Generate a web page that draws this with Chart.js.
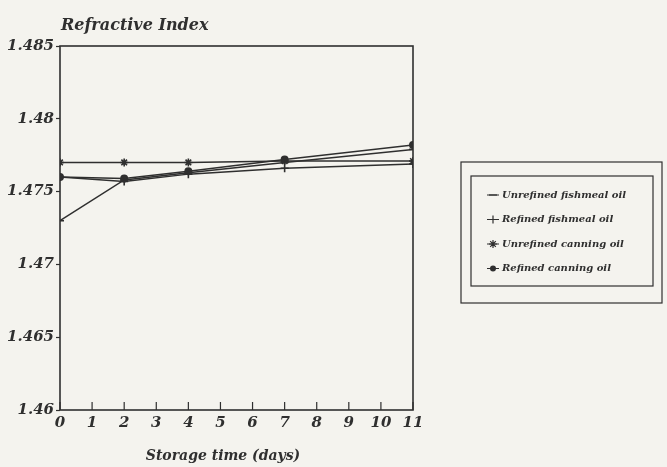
<!DOCTYPE html>
<html>
<head>
<meta charset="utf-8">
<script src="https://cdn.jsdelivr.net/npm/chart.js@4/dist/chart.umd.min.js"></script>
<style>
  html, body { margin: 0; padding: 0; background: #f4f3ee; }
  #wrap { width: 667px; height: 467px; position: relative; }
</style>
</head>
<body>
<div id="wrap"><canvas id="ri-chart" width="667" height="467"></canvas></div>
<script>
// storage days and refractive index readings
var days = [0, 2, 4, 7, 11];
var unrefinedFishmeal = [1.4730, 1.4758, 1.4763, 1.4770, 1.4779];
var refinedFishmeal = [1.4760, 1.4757, 1.4762, 1.4766, 1.4769];
var unrefinedCanning = [1.4770, 1.4770, 1.4770, 1.4771, 1.4771];
var refinedCanning = [1.4760, 1.4759, 1.4764, 1.4772, 1.4782];

var seriesLabels = ['Unrefined fishmeal oil', 'Refined fishmeal oil', 'Unrefined canning oil', 'Refined canning oil'];
var seriesValues = [unrefinedFishmeal, refinedFishmeal, unrefinedCanning, refinedCanning];
var markers = ['line', 'cross', 'star', 'circle'];

var xTicks = [0, 1, 2, 3, 4, 5, 6, 7, 8, 9, 10, 11];
var yTicks = [1.46, 1.465, 1.47, 1.475, 1.48, 1.485];

var ink = '#2f2f2f';
var fontFam = '"DejaVu Serif", serif';

function toPoints(vals) {
    return days.map(function (d, i) { return { x: d, y: vals[i] }; });
}

var datasets = seriesValues.map(function (vals, i) {
    return {
        label: seriesLabels[i],
        data: toPoints(vals),
        borderColor: ink,
        backgroundColor: ink,
        borderWidth: 1.5,
        pointStyle: markers[i],
        pointRadius: markers[i] == 'circle' ? 3.2 : 4,
        pointBorderWidth: 1.6,
        tension: 0
    };
});

function drawMarker(ctx, style, x, y, r) {
    ctx.beginPath();
    if (style == 'circle') {
        ctx.arc(x, y, r * 0.75, 0, Math.PI * 2);
        ctx.fill();
        return;
    }
    if (style == 'line' || style == 'cross' || style == 'star') {
        ctx.moveTo(x - r, y); ctx.lineTo(x + r, y);
    }
    if (style == 'cross' || style == 'star') {
        ctx.moveTo(x, y - r); ctx.lineTo(x, y + r);
    }
    if (style == 'star') {
        var d = r * 0.7;
        ctx.moveTo(x - d, y - d); ctx.lineTo(x + d, y + d);
        ctx.moveTo(x - d, y + d); ctx.lineTo(x + d, y - d);
    }
    ctx.stroke();
}

// frame, inward x ticks, axis titles and boxed legend
var framePlugin = {
    id: 'frame',
    afterDraw: function (chart) {
        var ctx = chart.ctx;
        var a = chart.chartArea;
        var xs = chart.scales.x;
        ctx.save();
        ctx.strokeStyle = ink;
        ctx.fillStyle = ink;
        ctx.lineWidth = 1.6;
        ctx.strokeRect(a.left, a.top, a.right - a.left, a.bottom - a.top);

        ctx.lineWidth = 1.2;
        ctx.beginPath();
        xTicks.forEach(function (t) {
            var px = xs.getPixelForValue(t);
            ctx.moveTo(px, a.bottom);
            ctx.lineTo(px, a.bottom - 8);
        });
        ctx.stroke();

        ctx.font = 'italic bold 16px ' + fontFam;
        ctx.textAlign = 'left';
        ctx.textBaseline = 'alphabetic';
        ctx.fillText('Refractive Index', a.left + 1, 30);

        ctx.font = 'italic bold 14px ' + fontFam;
        ctx.textAlign = 'center';
        ctx.fillText('Storage time (days)', 223, 460);

        // legend boxes
        ctx.textAlign = 'left';
        ctx.lineWidth = 1.2;
        ctx.strokeRect(461, 162, 201, 141);
        ctx.strokeRect(471, 176, 182, 110);
        ctx.font = 'italic bold 10px ' + fontFam;
        ctx.textBaseline = 'middle';
        seriesLabels.forEach(function (lab, i) {
            var y = 195 + i * 24.5;
            ctx.lineWidth = 1;
            ctx.beginPath();
            ctx.moveTo(487, y); ctx.lineTo(499, y);
            ctx.stroke();
            ctx.lineWidth = 1.2;
            drawMarker(ctx, markers[i], 493, y, 4);
            ctx.fillText(lab, 502, y);
        });
        ctx.restore();
    }
};

var ctx = document.getElementById('ri-chart').getContext('2d');
var riChart = new Chart(ctx, {
    type: 'line',
    data: { datasets: datasets },
    options: {
        responsive: false,
        animation: false,
        layout: { padding: { top: 46, right: 254, left: 0, bottom: 0 } },
        plugins: {
            legend: { display: false },
            tooltip: { enabled: false }
        },
        scales: {
            x: {
                type: 'linear',
                min: 0,
                max: 11,
                afterFit: function (s) { s.height = 57; },
                afterBuildTicks: function (s) {
                    s.ticks = xTicks.map(function (v) { return { value: v }; });
                },
                grid: { drawOnChartArea: false, drawTicks: false },
                border: { display: false },
                ticks: {
                    color: ink,
                    padding: 4,
                    font: { family: fontFam, size: 15, style: 'italic', weight: 'bold' }
                }
            },
            y: {
                min: 1.46,
                max: 1.485,
                afterFit: function (s) { s.width = 60; },
                afterBuildTicks: function (s) {
                    s.ticks = yTicks.map(function (v) { return { value: v }; });
                },
                grid: { drawOnChartArea: false, drawTicks: true, tickLength: 4, color: ink, tickWidth: 1.2 },
                border: { display: false },
                ticks: {
                    color: ink,
                    padding: 2,
                    font: { family: fontFam, size: 15, style: 'italic', weight: 'bold' },
                    callback: function (v) { return String(Number(v.toFixed(3))); }
                }
            }
        }
    },
    plugins: [framePlugin]
});
</script>
</body>
</html>
